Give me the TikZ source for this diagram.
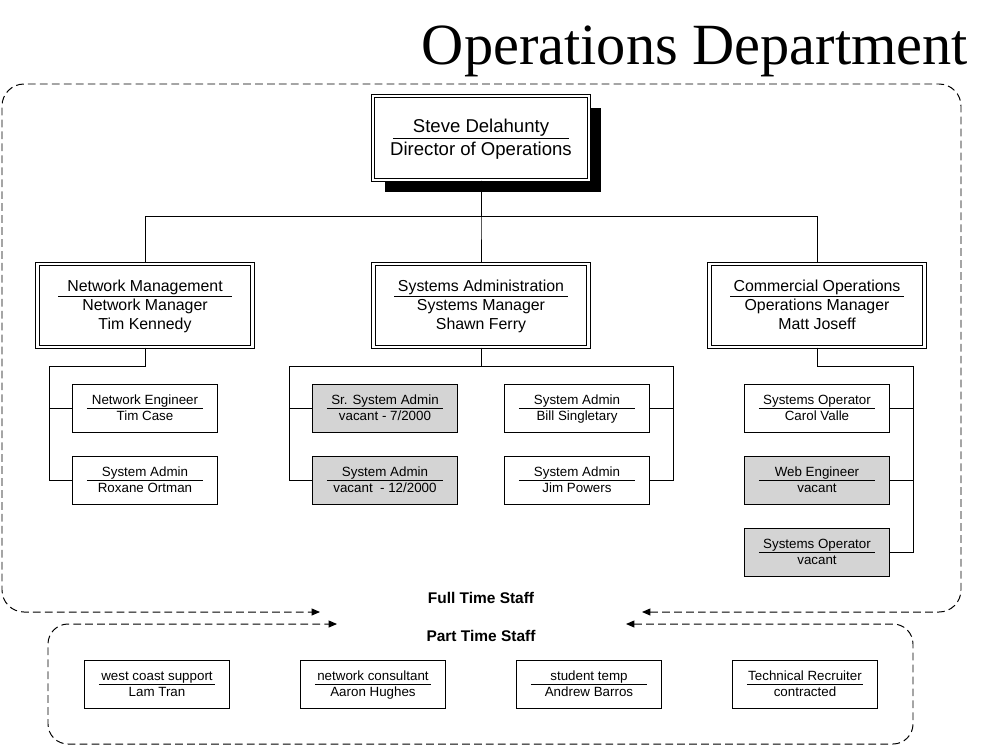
\documentclass[tikz,border=0pt]{standalone}
\usepackage{fontspec}
\setmainfont{Liberation Sans}
\newfontfamily\titlefont{Liberation Serif}
\usetikzlibrary{positioning,arrows.meta,calc,shadows}

\definecolor{vacantgray}{RGB}{212,212,212}

\begin{document}
\begin{tikzpicture}[
        x=0.025cm, y=-0.025cm,
        director/.style={draw, double, double distance=1.6pt, line width=0.75pt, fill=white,
                minimum width=5.4cm, minimum height=2.1cm, align=center, text depth=0.7pt,
                font=\fontsize{13.2}{16.3}\selectfont,
                drop shadow={shadow xshift=0.3cm, shadow yshift=-0.3cm, fill=black, opacity=1},
                path picture={\draw[line width=0.7pt] ($(path picture bounding box.west)+(20,0)$) -- ($(path picture bounding box.east)+(-20,0)$);}},
        manager/.style={draw, double, double distance=1.6pt, line width=0.75pt, fill=white,
                minimum width=5.375cm, minimum height=2.075cm, align=center, text depth=1pt,
                font=\fontsize{11.3}{13.5}\selectfont,
                path picture={\draw[line width=0.7pt] ($(path picture bounding box.west)+(21,-9.5)$) -- ($(path picture bounding box.east)+(-21,-9.5)$);}},
        staff/.style={draw, line width=0.7pt, fill=white,
                minimum width=3.6cm, minimum height=1.2cm, align=center,
                text height=18.1pt, text depth=0.6pt,
                font=\fontsize{9.5}{11.3}\selectfont,
                path picture={\draw[line width=0.7pt] ($(path picture bounding box.west)+(14,0)$) -- ($(path picture bounding box.east)+(-14,0)$);}},
        vacant/.style={staff, fill=vacantgray},
        link/.style={line width=0.7pt},
        border/.style={line width=0.7pt, dash pattern=on 5.5pt off 3pt, <->,
                >={Triangle[length=6pt,width=5pt]}},
        grouplabel/.style={font=\bfseries\fontsize{11}{13}\selectfont}
    ]

    \useasboundingbox (0,0) rectangle (982,745);

    % Title
    \node[anchor=base, font=\titlefont\fontsize{41.5}{45}\selectfont] (title) at (695,64) {Operations Department};

    % Director
    \node[director] (dir) at (481,138) {Steve Delahunty\\Director of Operations};

    % Managers
    \node[manager] (nm) at (145,305.5) {Network Management\\Network Manager\\Tim Kennedy};
    \node[manager] (sam) at (481,305.5) {Systems Administration\\Systems Manager\\Shawn Ferry};
    \node[manager] (com) at (817,305.5) {Commercial Operations\\Operations Manager\\Matt Joseff};

    % Director to managers
    \foreach \m in {nm,sam,com} {
            \draw[link] (dir.south) -- ++(0,36) -| (\m.north);
        }

    % Network staff
    \node[staff] (n1) at (145,408) {Network Engineer\\Tim Case};
    \node[staff] (n2) at (145,480) {System Admin\\Roxane Ortman};

    \coordinate (nmbus) at (49,366);
    \draw[link] (nm.south) |- (nmbus);
    \foreach \s in {n1,n2} {
            \draw[link] (nmbus) |- (\s.west);
        }

    % Systems staff
    \node[vacant] (s1) at (385,408) {Sr. System Admin\\vacant - 7/2000};
    \node[vacant] (s2) at (385,480) {System Admin\\vacant\ \ - 12/2000};
    \node[staff] (s3) at (577,408) {System Admin\\Bill Singletary};
    \node[staff] (s4) at (577,480) {System Admin\\Jim Powers};

    \coordinate (sabusl) at (289,366);
    \coordinate (sabusr) at (673,366);
    \draw[link] (sabusl) -- (sabusr);
    \draw[link] (sam.south) -- (sam.south |- sabusl);
    \foreach \s in {s1,s2} {
            \draw[link] (sabusl) |- (\s.west);
        }
    \foreach \s in {s3,s4} {
            \draw[link] (sabusr) |- (\s.east);
        }

    % Commercial staff
    \node[staff] (c1) at (817,408) {Systems Operator\\Carol Valle};
    \node[vacant] (c2) at (817,480) {Web Engineer\\vacant};
    \node[vacant] (c3) at (817,552) {Systems Operator\\vacant};

    \coordinate (cmbus) at (913,366);
    \draw[link] (com.south) |- (cmbus);
    \foreach \s in {c1,c2,c3} {
            \draw[link] (cmbus) |- (\s.east);
        }

    % Full time frame
    \draw[border, rounded corners=0.55cm] (642,612) -- (961,612) -- (961,84) -- (2,84) -- (2,612) -- (320,612);
    \node[grouplabel] (ftlabel) at (481,598) {Full Time Staff};

    % Part time frame
    \draw[border, rounded corners=0.5cm] (626,624) -- (913,624) -- (913,744) -- (48,744) -- (48,624) -- (337,624);
    \node[grouplabel] (ptlabel) at (481,636) {Part Time Staff};

    % Part time staff
    \node[staff] (p1) at (157,684) {west coast support\\Lam Tran};
    \node[staff] (p2) at (373,684) {network consultant\\Aaron Hughes};
    \node[staff] (p3) at (589,684) {student temp\\Andrew Barros};
    \node[staff] (p4) at (805,684) {Technical Recruiter\\contracted};

\end{tikzpicture}
\end{document}
